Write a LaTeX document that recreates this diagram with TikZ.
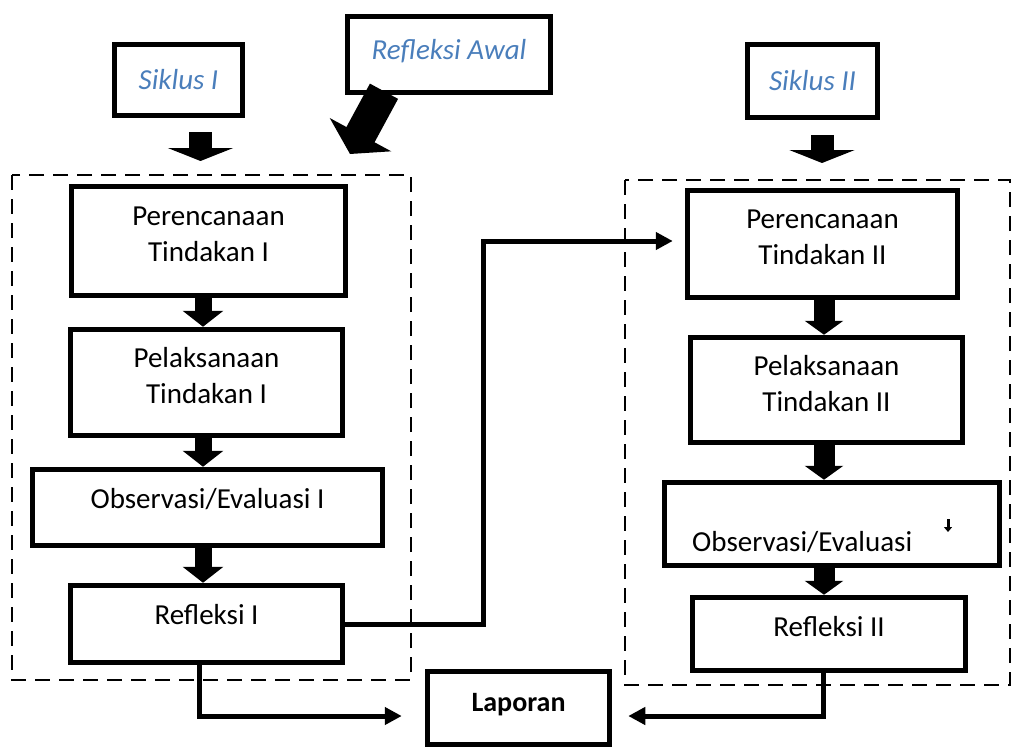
\documentclass[tikz,border=0pt]{standalone}
\usepackage{fontspec}
\setmainfont{Carlito}
\usetikzlibrary{arrows.meta,calc}
\definecolor{sblue}{HTML}{4A7EBB}
\begin{document}
\begin{tikzpicture}[x=1pt,y=-1pt,
  box/.style={draw,line width=5.5pt,inner sep=0pt,align=center,
    font=\fontsize{29}{36}\selectfont},
  sbox/.style={box,text=sblue,font=\fontsize{29}{36}\selectfont\itshape},
  dashbox/.style={draw,line width=2pt,dash pattern=on 15pt off 9pt},
  conn/.style={line width=5pt},
  arr/.style={conn,-{Triangle[width=17pt,length=17pt]}},
  blkL/.style={line width=17pt,-{Triangle[width=40pt,length=16pt]}},
  blkR/.style={line width=21pt,-{Triangle[width=38pt,length=14pt]}},
  blkT/.style={line width=23pt,-{Triangle[width=65pt,length=13pt]}},
  blkD/.style={line width=32pt,-{Triangle[width=69pt,length=22pt]}},
  tiny/.style={line width=3pt,-{Triangle[width=8pt,length=5pt]}}]
\useasboundingbox (0,0) rectangle (1016,749);

% dashed frames
\draw[dashbox] (12,175) rectangle (411,680);
\draw[dashbox] (625,180) rectangle (1010,685);

% top boxes
\node[sbox,minimum width=128,minimum height=71] (sI) at (178.5,80) {Siklus I};
\node[sbox,minimum width=203,minimum height=76,text depth=10pt] (ra) at (449,54.5) {Refleksi Awal};
\node[sbox,minimum width=130,minimum height=73] (sII) at (812.5,81) {Siklus II};

% left column
\node[box,minimum width=274,minimum height=109,text depth=14pt] (p1) at (208.5,241) {Perencanaan\\Tindakan I};
\node[box,minimum width=272,minimum height=106,text depth=14pt] (l1) at (206.5,382.5) {Pelaksanaan\\Tindakan I};
\node[box,minimum width=350,minimum height=76,text depth=19pt] (o1) at (207.5,507.5) {Observasi/Evaluasi I};
\node[box,minimum width=272,minimum height=77,text depth=19pt] (r1) at (206.5,624) {Refleksi I};

% right column
\node[box,minimum width=270,minimum height=107,text depth=14pt] (p2) at (822.5,244) {Perencanaan\\Tindakan II};
\node[box,minimum width=272,minimum height=105,text depth=14pt] (l2) at (826.5,390) {Pelaksanaan\\Tindakan II};
\node[box,minimum width=335,minimum height=83] (o2) at (832,524) {};
\node[anchor=base west,inner sep=0pt,font=\fontsize{29}{36}\selectfont] (o2t) at (692,551) {Observasi/Evaluasi};
\node[box,minimum width=273,minimum height=73,text depth=15pt] (r2) at (829,634) {Refleksi II};

% report
\node[box,minimum width=182,minimum height=73,text depth=11pt,font=\fontsize{28}{35}\selectfont\bfseries] (lap) at (518.5,708) {Laporan};

% helper coordinates
\coordinate (xl) at (203,0);
\coordinate (xr) at (824,0);
\coordinate (sIa) at (200.5,132);
\coordinate (sIb) at (200.5,161);
\coordinate (sIIa) at (822,135);
\coordinate (sIIb) at (822,163);
\coordinate (xm) at (483,0);
\coordinate (xd) at (199,0);
\coordinate (xe) at (823,0);
\coordinate (rawtip) at (350,154);
\coordinate (ta) at (948,519);
\coordinate (tb) at (948,532);

% block arrows
\draw[blkT] (sIa) -- (sIb);
\draw[blkT] (sIIa) -- (sIIb);
\draw[blkD] ([xshift=-65pt,yshift=4pt]ra.south) -- (rawtip);
\draw[blkL] (p1.south -| xl) -- (l1.north -| xl);
\draw[blkL] (l1.south -| xl) -- (o1.north -| xl);
\draw[blkL] (o1.south -| xl) -- (r1.north -| xl);
\draw[blkR] (p2.south -| xr) -- (l2.north -| xr);
\draw[blkR] (l2.south -| xr) -- (o2.north -| xr);
\draw[blkR] (o2.south -| xr) -- (r2.north -| xr);
\draw[tiny] (ta) -- (tb);

% connectors
\draw[arr] (r1.east) -- (r1.east -| xm) |- ([xshift=-12pt,yshift=3pt]p2.west);
\draw[arr] (r1.south -| xd) |- ([xshift=-23pt,yshift=-8pt]lap.west);
\draw[arr] (r2.south -| xe) |- ([xshift=16pt,yshift=-8pt]lap.east);
\end{tikzpicture}
\end{document}
